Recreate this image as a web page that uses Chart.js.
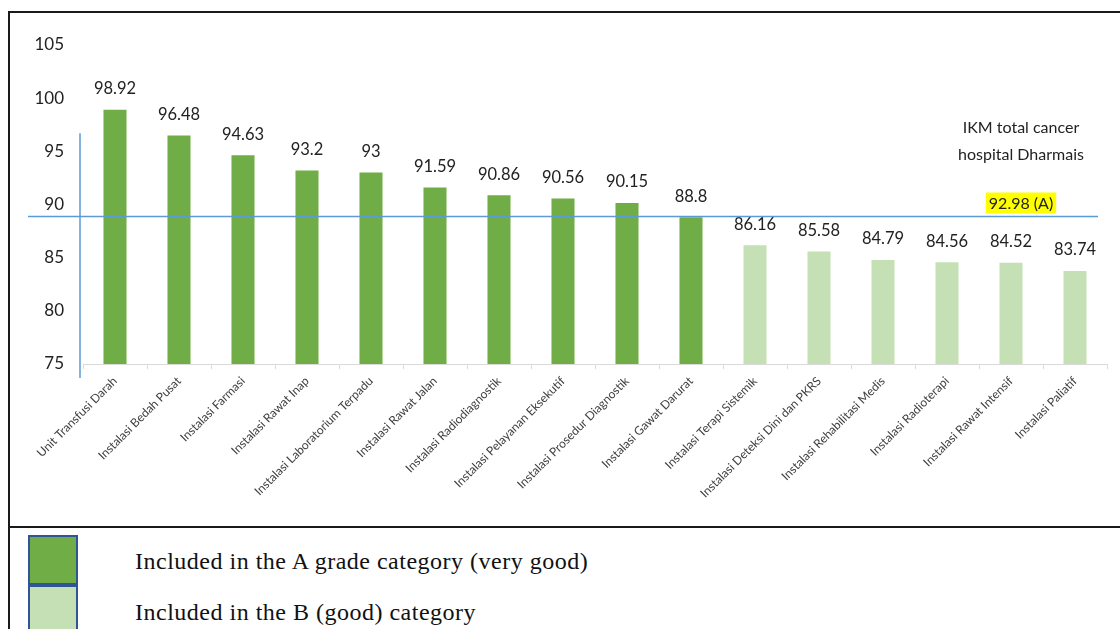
<!DOCTYPE html>
<html>
<head>
<meta charset="utf-8">
<script src="https://cdn.jsdelivr.net/npm/chart.js@4.4.1/dist/chart.umd.min.js"></script>
<style>
    body { margin: 0; background: #fff; width: 1120px; height: 629px; overflow: hidden; position: relative; }
    #frame { position: absolute; left: 8px; top: 11px; width: 1130px; height: 640px; border-top: 2px solid #1a1a1a; border-left: 2px solid #1a1a1a; }
    #divider { position: absolute; left: 8px; top: 526px; width: 1120px; height: 2px; background: #1a1a1a; }
    #chart-box { position: absolute; left: 10px; top: 14px; width: 1108px; height: 510px; }
    .swatch { position: absolute; left: 28px; width: 50px; height: 50px; box-sizing: border-box; border: 2px solid #2F5597; }
    .legend-text { position: absolute; left: 135px; font-family: 'Liberation Serif', 'Times New Roman', serif; font-size: 24px; letter-spacing: 0.5px; color: #111; white-space: nowrap; }
</style>
</head>
<body>
<div id="frame"></div>
<div id="divider"></div>
<div id="chart-box"><canvas id="ikmChart"></canvas></div>
<div class="swatch" style="top: 535px; background: #70AD47;"></div>
<div class="swatch" style="top: 585px; background: #C5E0B4;"></div>
<div class="legend-text" style="top: 548px;">Included in the A grade category (very good)</div>
<div class="legend-text" style="top: 599px;">Included in the B (good) category</div>

<script>
// ======================
// Data
// ======================
const units = [
    'Unit Transfusi Darah',
    'Instalasi Bedah Pusat',
    'Instalasi Farmasi',
    'Instalasi Rawat Inap',
    'Instalasi Laboratorium Terpadu',
    'Instalasi Rawat Jalan',
    'Instalasi Radiodiagnostik',
    'Instalasi Pelayanan Eksekutif',
    'Instalasi Prosedur Diagnostik',
    'Instalasi Gawat Darurat',
    'Instalasi Terapi Sistemik',
    'Instalasi Deteksi Dini dan PKRS',
    'Instalasi Rehabilitasi Medis',
    'Instalasi Radioterapi',
    'Instalasi Rawat Intensif',
    'Instalasi Paliatif'
];
const scores = [98.92, 96.48, 94.63, 93.2, 93, 91.59, 90.86, 90.56, 90.15, 88.8,
                86.16, 85.58, 84.79, 84.56, 84.52, 83.74];
const grades = ['A', 'A', 'A', 'A', 'A', 'A', 'A', 'A', 'A', 'A',
                'B', 'B', 'B', 'B', 'B', 'B'];
const yTicks = [75, 80, 85, 90, 95, 100, 105];
const refLineValue = 88.9;
const ikmNote = ['IKM total cancer', 'hospital Dharmais'];
const ikmTotal = '92.98 (A)';

const gradeColors = { A: '#70AD47', B: '#C5E0B4' };

// ======================
// Labels + reference lines
// ======================
const overlayPlugin = {
    id: 'overlay',
    afterDatasetsDraw(chart) {
        const ctx = chart.ctx;
        const area = chart.chartArea;
        const y = chart.scales.y;
        const meta = chart.getDatasetMeta(0);

        ctx.save();
        ctx.font = '16.5px Lato';
        ctx.fillStyle = '#222';
        ctx.textAlign = 'center';
        ctx.textBaseline = 'middle';
        meta.data.forEach((bar, i) => {
            ctx.fillText(String(scores[i]), bar.x, bar.y - 21);
        });

        // blue lines
        ctx.strokeStyle = '#5B9BD5';
        ctx.lineWidth = 1.5;
        const lineY = Math.round(y.getPixelForValue(refLineValue)) + 0.5;
        ctx.beginPath();
        ctx.moveTo(area.left - 55, lineY);
        ctx.lineTo(area.right - 9, lineY);
        ctx.stroke();

        ctx.beginPath();
        ctx.moveTo(area.left - 3, y.getPixelForValue(96.7));
        ctx.lineTo(area.left - 3, area.bottom + 14);
        ctx.stroke();

        // total note
        const cx = area.right - 86;
        ctx.font = '16px Lato';
        ctx.fillStyle = '#222';
        ctx.fillText(ikmNote[0], cx, 114);
        ctx.fillText(ikmNote[1], cx, 141);

        const w = ctx.measureText(ikmTotal).width;
        ctx.fillStyle = '#FFFF00';
        ctx.fillRect(cx - w / 2 - 3, lineY - 24, w + 6, 21);
        ctx.fillStyle = '#222';
        ctx.fillText(ikmTotal, cx, lineY - 13);
        ctx.restore();
    }
};

// ======================
// Chart
// ======================
new Chart(document.getElementById('ikmChart'), {
    type: 'bar',
    data: {
        labels: units,
        datasets: [{
            data: scores,
            backgroundColor: grades.map(g => gradeColors[g]),
            barPercentage: 0.36,
            categoryPercentage: 1
        }]
    },
    options: {
        responsive: true,
        maintainAspectRatio: false,
        animation: false,
        layout: {
            padding: { top: 31, right: 11, left: 0, bottom: 0 }
        },
        scales: {
            y: {
                min: 75,
                max: 105,
                afterFit: (scale) => { scale.width = 73; },
                afterBuildTicks: (scale) => { scale.ticks = yTicks.map(v => ({ value: v })); },
                grid: { display: false },
                border: { display: false },
                ticks: {
                    padding: 11,
                    color: '#222',
                    font: { size: 17, family: 'Lato' }
                }
            },
            x: {
                afterFit: (scale) => { scale.height = 160; },
                grid: {
                    display: true,
                    drawOnChartArea: false,
                    offset: true,
                    tickLength: 5,
                    color: '#d9d9d9'
                },
                border: { color: '#d9d9d9' },
                ticks: {
                    minRotation: 45,
                    maxRotation: 45,
                    autoSkip: false,
                    padding: 5,
                    color: '#404040',
                    font: { size: 12, family: 'Lato' }
                }
            }
        },
        plugins: {
            legend: { display: false },
            tooltip: { enabled: false }
        }
    },
    plugins: [overlayPlugin]
});
</script>
</body>
</html>
